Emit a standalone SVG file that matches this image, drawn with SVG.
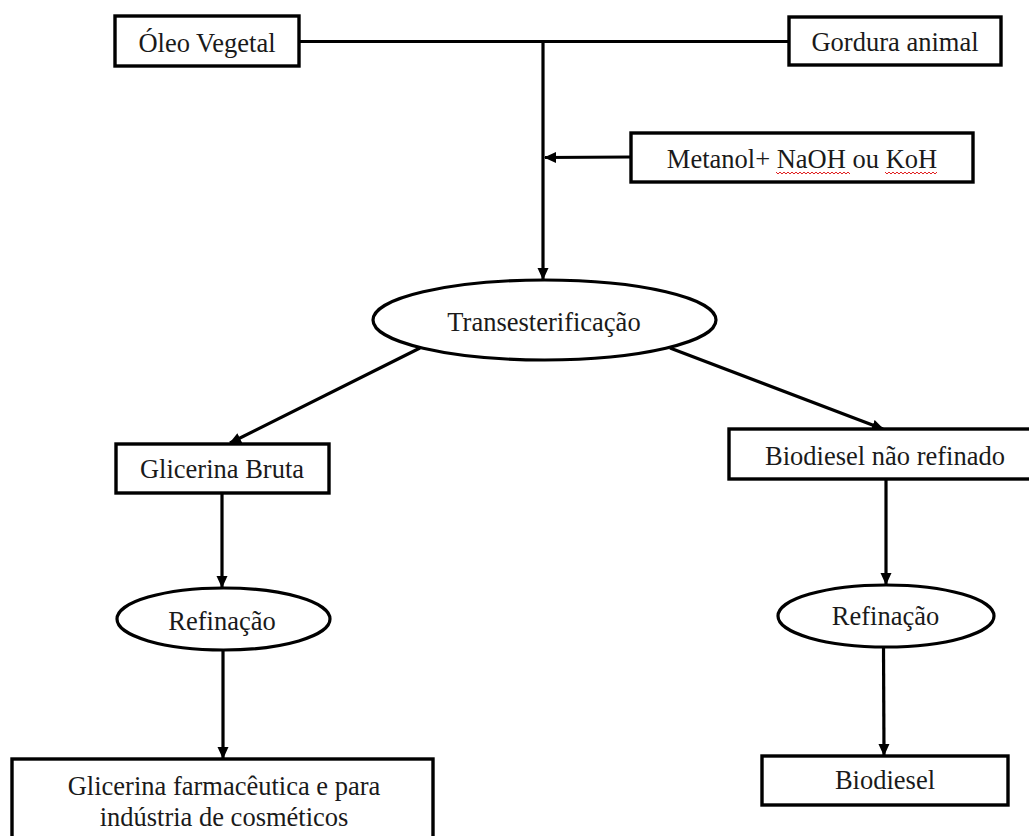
<svg xmlns="http://www.w3.org/2000/svg" width="1029" height="836" viewBox="0 0 1029 836">
<style>
.box{fill:#fff;stroke:#000;stroke-width:3.4}
.ell{fill:#fff;stroke:#000;stroke-width:3.2}
.lbl{font-size:26.5px;fill:#1a1a1a;text-anchor:middle}
.con{fill:none;stroke:#000;stroke-width:3.2}
.arr{marker-end:url(#ah)}
.wavy{fill:none;stroke:#e02020;stroke-width:1}
</style>
<defs>
<marker id="ah" markerWidth="12" markerHeight="12" refX="11" refY="6" orient="auto" markerUnits="userSpaceOnUse">
<path d="M0,0.5 L12,6 L0,11.5 Z" fill="#000"/>
</marker>
</defs>
<rect width="1029" height="836" fill="#fff"/>
<g id="connectors">
<line class="con" x1="299" y1="41.5" x2="789" y2="41.5"/>
<line class="con arr" x1="543" y1="41" x2="543" y2="279"/>
<line class="con arr" x1="631" y1="157" x2="545" y2="157.5"/>
<line class="con arr" x1="420" y1="348" x2="230" y2="443"/>
<line class="con arr" x1="670" y1="348" x2="883" y2="429"/>
<line class="con arr" x1="222" y1="493" x2="222" y2="587"/>
<line class="con arr" x1="886" y1="479" x2="886" y2="584"/>
<line class="con arr" x1="223" y1="650" x2="223" y2="758"/>
<line class="con arr" x1="883.5" y1="647" x2="884" y2="755"/>
</g>
<g font-family="Liberation Serif, Times New Roman, serif">
<g id="oleo">
<rect class="box" x="115" y="16" width="184" height="50"/>
<text class="lbl" x="207" y="52">Óleo Vegetal</text>
</g>
<g id="gordura">
<rect class="box" x="789" y="17" width="212" height="48"/>
<text class="lbl" x="895" y="51">Gordura animal</text>
</g>
<g id="metanol">
<rect class="box" x="631" y="133" width="342" height="49"/>
<text class="lbl" x="802" y="168">Metanol+ NaOH ou KoH</text>
<path class="wavy" d="M776,172 l2,2 l2,-2 l2,2 l2,-2 l2,2 l2,-2 l2,2 l2,-2 l2,2 l2,-2 l2,2 l2,-2 l2,2 l2,-2 l2,2 l2,-2 l2,2 l2,-2 l2,2 l2,-2 l2,2 l2,-2 l2,2 l2,-2 l2,2 l2,-2 l2,2 l2,-2 l2,2 l2,-2 l2,2 l2,-2 l2,2 l2,-2 l2,2 l2,-2 l2,2"/>
<path class="wavy" d="M885,172 l2,2 l2,-2 l2,2 l2,-2 l2,2 l2,-2 l2,2 l2,-2 l2,2 l2,-2 l2,2 l2,-2 l2,2 l2,-2 l2,2 l2,-2 l2,2 l2,-2 l2,2 l2,-2 l2,2 l2,-2 l2,2 l2,-2 l2,2 l2,-2"/>
</g>
<g id="transesterificacao">
<ellipse class="ell" cx="544.5" cy="320" rx="171.5" ry="40"/>
<text class="lbl" x="544" y="331">Transesterificação</text>
</g>
<g id="glicerina-bruta">
<rect class="box" x="116" y="444" width="213" height="49"/>
<text class="lbl" x="222" y="478">Glicerina Bruta</text>
</g>
<g id="biodiesel-nao-refinado">
<rect class="box" x="729" y="429" width="312" height="50"/>
<text class="lbl" x="885" y="465">Biodiesel não refinado</text>
</g>
<g id="refinacao-glicerina">
<ellipse class="ell" cx="223.5" cy="619" rx="106.5" ry="31"/>
<text class="lbl" x="222" y="630">Refinação</text>
</g>
<g id="refinacao-biodiesel">
<ellipse class="ell" cx="886" cy="616" rx="108" ry="31"/>
<text class="lbl" x="885.5" y="625">Refinação</text>
</g>
<g id="glicerina-farmaceutica">
<rect class="box" x="12" y="759" width="421" height="95"/>
<text class="lbl" x="224" y="795">Glicerina farmacêutica e para</text>
<text class="lbl" x="224" y="826">indústria de cosméticos</text>
</g>
<g id="biodiesel">
<rect class="box" x="762" y="756" width="246" height="49"/>
<text class="lbl" x="885" y="789">Biodiesel</text>
</g>
</g>
</svg>
